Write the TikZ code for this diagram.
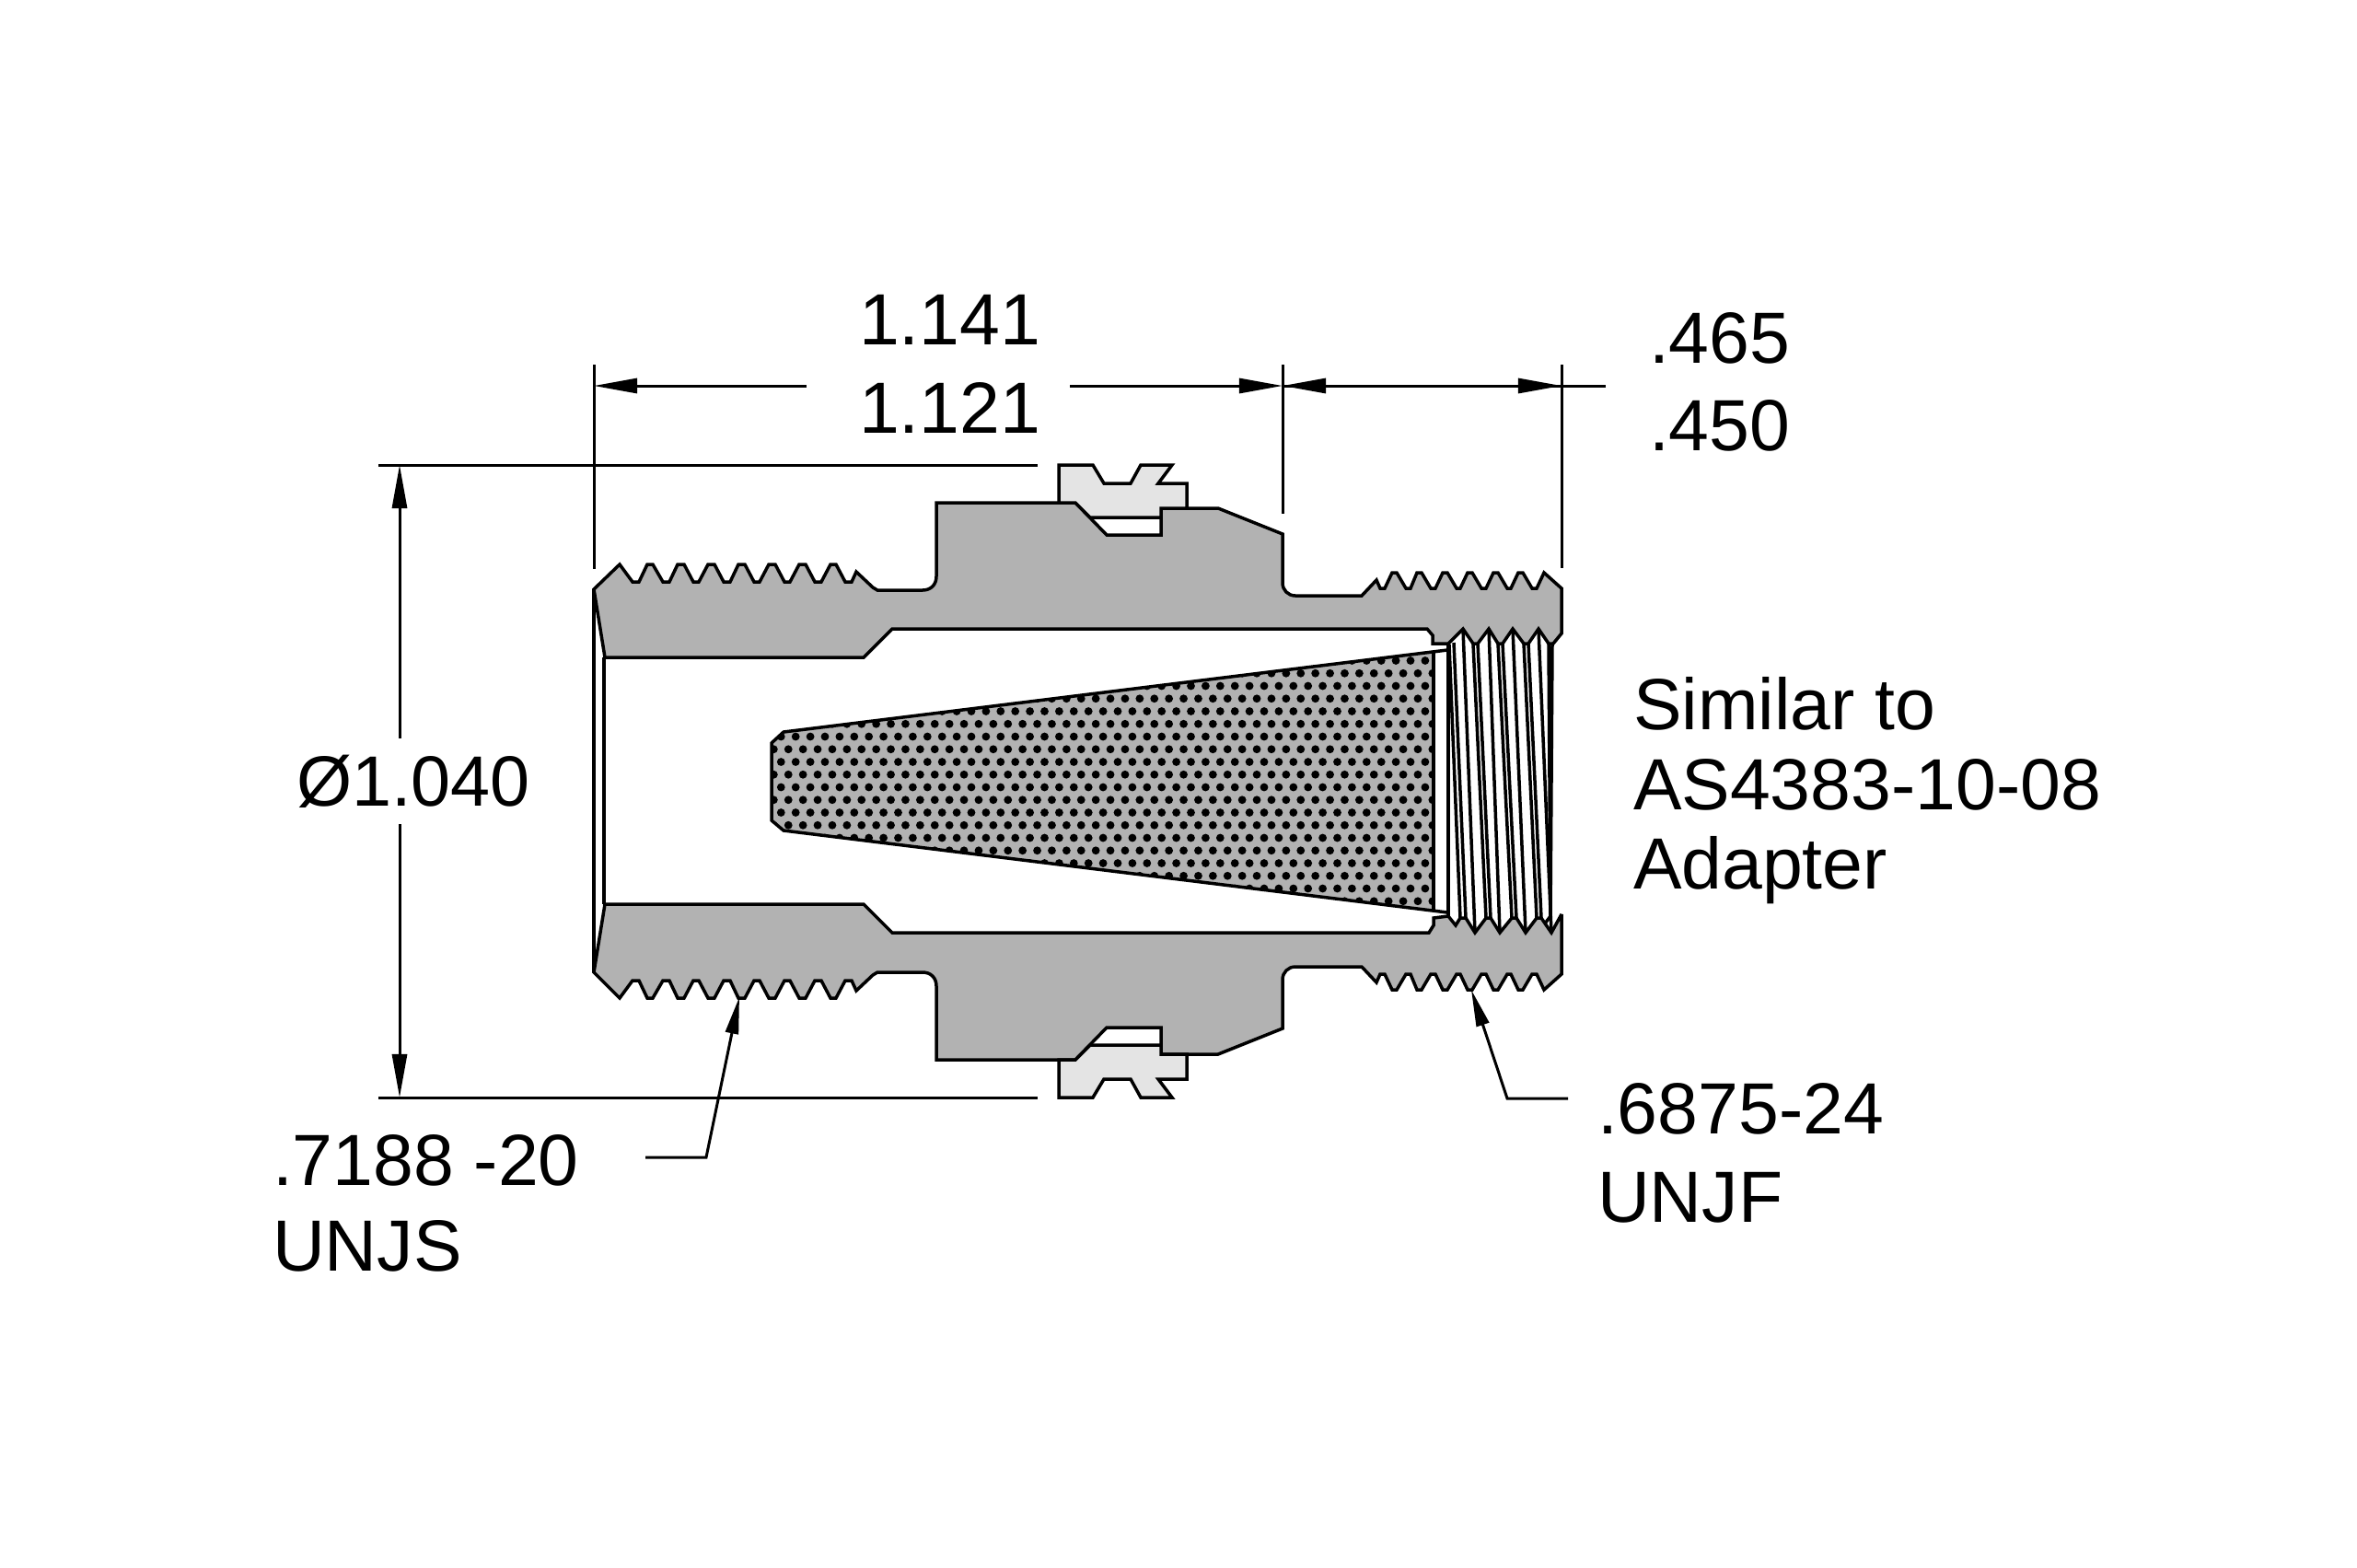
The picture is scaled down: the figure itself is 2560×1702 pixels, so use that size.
\documentclass[tikz,border=0pt]{standalone}
\usepackage{fontspec}
\setmainfont{Liberation Sans}
\usetikzlibrary{arrows.meta}
\definecolor{metal}{HTML}{B2B2B2}
\definecolor{ringfill}{HTML}{E4E4E4}
\tikzset{
  part/.style={draw=black,line width=0.035cm,line join=miter,miter limit=3},
  thr/.style={draw=black,line width=0.035cm},
  dimline/.style={draw=black,line width=0.03cm},
  dimarrow/.style={dimline,-{Triangle[length=0.47cm,width=0.16cm]},shorten >=0pt},
  leader/.style={dimline,line join=miter,-{Triangle[length=0.40cm,width=0.14cm]}},
  lbl/.style={anchor=base west,inner sep=0pt,outer sep=0pt,font=\fontsize{22.4}{27}\selectfont,text=black},
}
\begin{document}
\begin{tikzpicture}[x=0.01cm,y=-0.01cm]
\useasboundingbox (0,0) rectangle (2560,1702);
\fill[white] (0,0) rectangle (2560,1702);

% filter cone with perforations
\begin{scope}
\clip (838,807) -- (851,795) -- (1557,708.5) -- (1557,988.5) -- (851,902) -- (838,891) -- cycle;
\fill[metal] (830,700) rectangle (1565,1000);
\foreach \r in {-7,...,14}{
  \pgfmathsetmacro{\yy}{800+13.75*\r}
  \pgfmathsetmacro{\xo}{iseven(\r) ? 848.3 : 856.25}
  \foreach \k in {-1,...,45}{
    \pgfmathsetmacro{\xx}{\xo+15.9*\k}
    \fill[black] (\xx,\yy) circle[radius=4.4];
  }
}
\end{scope}
\draw[part] (1557,708.5) -- (1557,988.5);
\draw[part] (1572,706) -- (851,795) -- (838,807) -- (838,891) -- (851,902) -- (1572,991);

% inner thread lines
\draw[thr] (1573,699) -- (1573,995);
\draw[thr] (1574,700) -- (1586,997);
\draw[thr] (1579,698) -- (1592,997);
\draw[thr] (1589,683) -- (1602,1013);
\draw[thr] (1600,699) -- (1614,997);
\draw[thr] (1605,699) -- (1619,997);
\draw[thr] (1617,683) -- (1629,1013);
\draw[thr] (1627,699) -- (1642,997);
\draw[thr] (1632,699) -- (1647,997);
\draw[thr] (1643,683) -- (1657,1013);
\draw[thr] (1655,699) -- (1669,997);
\draw[thr] (1660,699) -- (1674,997);
\draw[thr] (1671,683) -- (1685,1013);
\draw[thr] (1682,699) -- (1684,995);
\draw[thr] (1686,699) -- (1684,995) -- (1678,1003);

% bore end lines
\draw[part] (645,640) -- (645,1056);
\draw[part] (656,714) -- (656,982);

% body, upper half
\draw[part,fill=metal] (645,640) -- (673,613) -- (687,632) -- (694,632) -- (703,613) -- (709,613)
 -- (720,632) -- (727,632) -- (736,613) -- (743,613) -- (753,632) -- (759,632) -- (769,613) -- (776,613)
 -- (786,632) -- (793,632) -- (802,613) -- (809,613) -- (819,632) -- (825,632) -- (835,613) -- (842,613)
 -- (852,632) -- (858,632) -- (868,613) -- (875,613) -- (885,632) -- (892,632) -- (902,613) -- (908,613)
 -- (918,632) -- (925,632) -- (930,621) -- (948,638) -- (953,641) -- (1002,641)
 .. controls (1011,641) and (1017,635) .. (1017,626) -- (1017,546) -- (1168,546) -- (1202,581) -- (1261,581)
 -- (1261,552) -- (1323,552) -- (1393,580) -- (1393,633) .. controls (1393,641) and (1399,647) .. (1407,647)
 -- (1479,647) -- (1495,630) -- (1499,639) -- (1504,639) -- (1512,622) -- (1517,622) -- (1527,639) -- (1532,639)
 -- (1539,622) -- (1544,622) -- (1554,639) -- (1559,639) -- (1567,622) -- (1572,622) -- (1582,639) -- (1586,639)
 -- (1594,622) -- (1599,622) -- (1609,639) -- (1614,639) -- (1622,622) -- (1627,622) -- (1637,639) -- (1641,639)
 -- (1649,622) -- (1654,622) -- (1664,639) -- (1669,639) -- (1677,622) -- (1696,639) -- (1696,688) -- (1687,699)
 -- (1682,699) -- (1671,683) -- (1660,699) -- (1655,699) -- (1643,683) -- (1632,699) -- (1627,699) -- (1617,683)
 -- (1605,699) -- (1600,699) -- (1589,683) -- (1573,699) -- (1556,699) -- (1556,690) -- (1550,683) -- (969,683)
 -- (938,714) -- (657,714) -- cycle;

% body, lower half
\draw[part,fill=metal] (645,1056) -- (673,1084) -- (687,1065) -- (694,1065) -- (703,1084) -- (709,1084)
 -- (720,1065) -- (727,1065) -- (736,1084) -- (743,1084) -- (753,1065) -- (759,1065) -- (769,1084) -- (776,1084)
 -- (786,1065) -- (793,1065) -- (802,1084) -- (809,1084) -- (819,1065) -- (825,1065) -- (835,1084) -- (842,1084)
 -- (852,1065) -- (858,1065) -- (868,1084) -- (875,1084) -- (885,1065) -- (892,1065) -- (902,1084) -- (908,1084)
 -- (918,1065) -- (925,1065) -- (930,1076) -- (948,1059) -- (953,1056) -- (1002,1056)
 .. controls (1011,1056) and (1017,1062) .. (1017,1071) -- (1017,1151) -- (1168,1151) -- (1202,1116) -- (1261,1116)
 -- (1261,1145) -- (1323,1145) -- (1393,1117) -- (1393,1064) .. controls (1393,1056) and (1399,1050) .. (1407,1050)
 -- (1479,1050) -- (1495,1067) -- (1499,1058) -- (1504,1058) -- (1512,1075) -- (1517,1075) -- (1527,1058) -- (1532,1058)
 -- (1539,1075) -- (1544,1075) -- (1554,1058) -- (1559,1058) -- (1567,1075) -- (1572,1075) -- (1582,1058) -- (1586,1058)
 -- (1594,1075) -- (1599,1075) -- (1609,1058) -- (1614,1058) -- (1622,1075) -- (1627,1075) -- (1637,1058) -- (1641,1058)
 -- (1649,1075) -- (1654,1075) -- (1664,1058) -- (1669,1058) -- (1677,1075) -- (1696,1058) -- (1696,993) -- (1685,1013)
 -- (1674,997) -- (1669,997) -- (1657,1013) -- (1647,997) -- (1642,997) -- (1629,1013) -- (1619,997) -- (1614,997)
 -- (1602,1013) -- (1592,997) -- (1586,997) -- (1581,1005) -- (1573,995) -- (1557,997) -- (1557,1005) -- (1552,1013)
 -- (969,1013) -- (938,982) -- (657,982) -- cycle;

% retaining rings
\draw[part,fill=ringfill] (1150,546) -- (1150,505) -- (1187,505) -- (1199,525) -- (1228,525) -- (1239,505) -- (1273,505)
 -- (1258,525) -- (1289,525) -- (1289,552) -- (1261,552) -- (1261,562) -- (1184,562) -- (1168,546) -- cycle;
\draw[part,fill=ringfill] (1150,1151) -- (1150,1192) -- (1187,1192) -- (1199,1172) -- (1228,1172) -- (1239,1192) -- (1273,1192)
 -- (1258,1172) -- (1289,1172) -- (1289,1145) -- (1261,1145) -- (1261,1135) -- (1184,1135) -- (1168,1151) -- cycle;

% dimension anchors
\coordinate (extLtop) at (645,396);  \coordinate (extLend) at (645,618);
\coordinate (extMtop) at (1393,396); \coordinate (extMend) at (1393,558);
\coordinate (extRtop) at (1696,396); \coordinate (extRend) at (1696,617);
\coordinate (dimLa) at (876,419);  \coordinate (dimLb) at (645,419);
\coordinate (dimLc) at (1162,419); \coordinate (dimLd) at (1393,419);
\coordinate (dimRa) at (1393,419); \coordinate (dimRb) at (1696,419); \coordinate (dimRend) at (1744,419);
\coordinate (hTopA) at (411,505);  \coordinate (hTopB) at (1127,505);
\coordinate (hBotA) at (411,1192); \coordinate (hBotB) at (1127,1192);
\coordinate (vTop) at (434,505);   \coordinate (vTopEnd) at (434,802);
\coordinate (vBot) at (434,1192);  \coordinate (vBotEnd) at (434,895);
\coordinate (leadAend) at (701,1257); \coordinate (leadAkink) at (767,1257); \coordinate (leadAtip) at (803,1083);
\coordinate (leadBend) at (1703,1193); \coordinate (leadBkink) at (1637,1193); \coordinate (leadBtip) at (1598,1075);

% extension and dimension lines
\draw[dimline] (extLtop) -- (extLend);
\draw[dimline] (extMtop) -- (extMend);
\draw[dimline] (extRtop) -- (extRend);
\draw[dimline] (hTopA) -- (hTopB);
\draw[dimline] (hBotA) -- (hBotB);
\draw[dimarrow] (dimLa) -- (dimLb);
\draw[dimarrow] (dimLc) -- (dimLd);
\draw[dimarrow] (dimRa) -- (dimRb);
\draw[dimarrow] (dimRend) -- (dimRa);
\draw[dimarrow] (vTopEnd) -- (vTop);
\draw[dimarrow] (vBotEnd) -- (vBot);
\draw[leader] (leadAend) -- (leadAkink) -- (leadAtip);
\draw[leader] (leadBend) -- (leadBkink) -- (leadBtip);

% labels
\node[lbl] (t1141) at (933,374) {1.141};
\node[lbl] (t1121) at (933,470) {1.121};
\node[lbl] (t465) at (1791,394) {.465};
\node[lbl] (t450) at (1791,489) {.450};
\node[lbl,font=\fontsize{22}{27}\selectfont] (tdia) at (322,875) {Ø1.040};
\node[lbl] (tsim) at (1774,792) {Similar to};
\node[lbl] (tas) at (1774,879) {AS4383-10-08};
\node[lbl] (tada) at (1774,965) {Adapter};
\node[lbl] (t7188) at (296,1287) {.7188 -20};
\node[lbl] (tunjs) at (296,1380) {UNJS};
\node[lbl] (t6875) at (1735,1231) {.6875-24};
\node[lbl] (tunjf) at (1735,1327) {UNJF};
\end{tikzpicture}
\end{document}
